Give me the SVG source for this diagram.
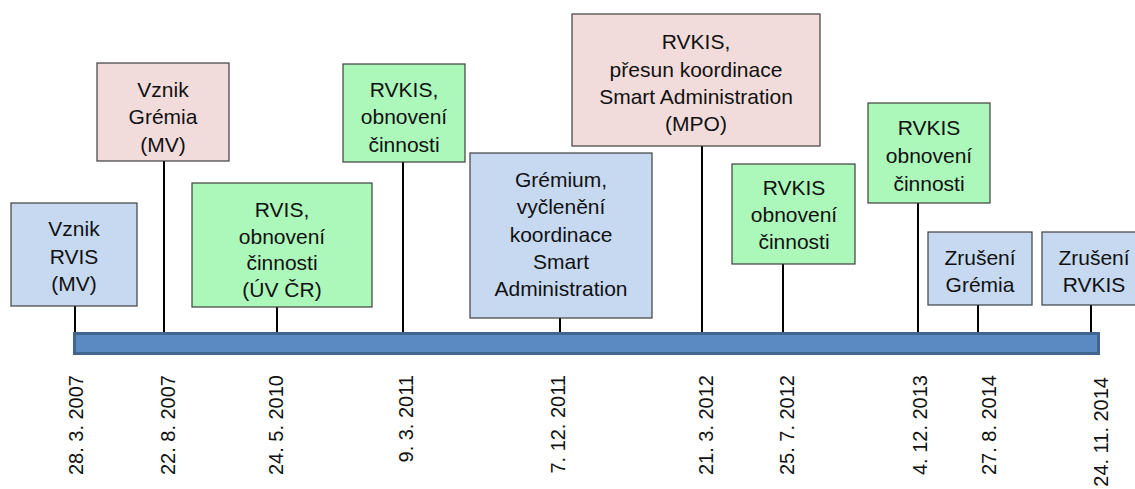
<svg xmlns="http://www.w3.org/2000/svg" width="1135" height="489" viewBox="0 0 1135 489">
<style>
.box{stroke:#3f3f3f;stroke-width:1.2}
.blue{fill:#c6d9f1}
.pink{fill:#f2dcdb}
.green{fill:#acf7ba}
.lbl{font-family:"Liberation Sans",Arial,sans-serif;font-size:21px;fill:#111;text-anchor:middle}
.date{font-family:"Liberation Sans",Arial,sans-serif;font-size:20px;fill:#111;text-anchor:end}
.stem{stroke:#000;stroke-width:2;fill:none}
</style>
<rect width="1135" height="489" fill="#fff"/>
<g id="connectors">
<line class="stem" x1="75" y1="306" x2="75" y2="333"/>
<line class="stem" x1="164" y1="161" x2="164" y2="333"/>
<line class="stem" x1="277" y1="307" x2="277" y2="333"/>
<line class="stem" x1="403" y1="162" x2="403" y2="333"/>
<line class="stem" x1="560" y1="318" x2="560" y2="333"/>
<line class="stem" x1="702" y1="146" x2="702" y2="333"/>
<line class="stem" x1="783" y1="264" x2="783" y2="333"/>
<line class="stem" x1="918" y1="203" x2="918" y2="333"/>
<line class="stem" x1="978" y1="305" x2="978" y2="333"/>
<line class="stem" x1="1091" y1="305" x2="1091" y2="333"/>
</g>
<g id="timeline">
<rect x="74.5" y="333.5" width="1024" height="20" fill="#5b8ac2" stroke="#41658e" stroke-width="3"/>
</g>
<g id="n1">
<rect class="box blue" x="11" y="203" width="126" height="103"/>
<text class="lbl" x="74" y="236">Vznik</text>
<text class="lbl" x="74" y="263.5">RVIS</text>
<text class="lbl" x="74" y="291">(MV)</text>
</g>
<g id="n2">
<rect class="box pink" x="97" y="63" width="132" height="98"/>
<text class="lbl" x="163" y="96.5">Vznik</text>
<text class="lbl" x="163" y="124">Grémia</text>
<text class="lbl" x="163" y="151.5">(MV)</text>
</g>
<g id="n3">
<rect class="box green" x="192" y="183" width="180" height="124"/>
<text class="lbl" x="282" y="217">RVIS,</text>
<text class="lbl" x="282" y="243.7">obnovení</text>
<text class="lbl" x="282" y="270.3">činnosti</text>
<text class="lbl" x="282" y="297">(ÚV ČR)</text>
</g>
<g id="n4">
<rect class="box green" x="343" y="64" width="122" height="98"/>
<text class="lbl" x="404" y="96.5">RVKIS,</text>
<text class="lbl" x="404" y="124">obnovení</text>
<text class="lbl" x="404" y="151.5">činnosti</text>
</g>
<g id="n5">
<rect class="box blue" x="470" y="153" width="182" height="165"/>
<text class="lbl" x="561" y="186.7">Grémium,</text>
<text class="lbl" x="561" y="214.1">vyčlenění</text>
<text class="lbl" x="561" y="241.5">koordinace</text>
<text class="lbl" x="561" y="268.9">Smart</text>
<text class="lbl" x="561" y="296.3">Administration</text>
</g>
<g id="n6">
<rect class="box pink" x="572" y="14" width="248" height="132"/>
<text class="lbl" x="696" y="49.3">RVKIS,</text>
<text class="lbl" x="696" y="76.7">přesun koordinace</text>
<text class="lbl" x="696" y="104.1">Smart Administration</text>
<text class="lbl" x="696" y="131">(MPO)</text>
</g>
<g id="n7">
<rect class="box green" x="732" y="164" width="123" height="100"/>
<text class="lbl" x="794" y="195">RVKIS</text>
<text class="lbl" x="794" y="222.2">obnovení</text>
<text class="lbl" x="794" y="249.3">činnosti</text>
</g>
<g id="n8">
<rect class="box green" x="868" y="103" width="122" height="100"/>
<text class="lbl" x="929" y="135">RVKIS</text>
<text class="lbl" x="929" y="162.8">obnovení</text>
<text class="lbl" x="929" y="190.7">činnosti</text>
</g>
<g id="n9">
<rect class="box blue" x="928" y="232" width="104" height="73"/>
<text class="lbl" x="980" y="265">Zrušení</text>
<text class="lbl" x="980" y="292">Grémia</text>
</g>
<g id="n10">
<rect class="box blue" x="1042" y="232" width="104" height="73"/>
<text class="lbl" x="1094" y="265">Zrušení</text>
<text class="lbl" x="1094" y="292">RVKIS</text>
</g>
<g id="dates">
<text class="date" transform="translate(83,375) rotate(-90)">28. 3. 2007</text>
<text class="date" transform="translate(175,375) rotate(-90)">22. 8. 2007</text>
<text class="date" transform="translate(283,375) rotate(-90)">24. 5. 2010</text>
<text class="date" transform="translate(413,375) rotate(-90)">9. 3. 2011</text>
<text class="date" transform="translate(565,375) rotate(-90)">7. 12. 2011</text>
<text class="date" transform="translate(713,375) rotate(-90)">21. 3. 2012</text>
<text class="date" transform="translate(794,375) rotate(-90)">25. 7. 2012</text>
<text class="date" transform="translate(927,375) rotate(-90)">4. 12. 2013</text>
<text class="date" transform="translate(996,375) rotate(-90)">27. 8. 2014</text>
<text class="date" transform="translate(1108,377) rotate(-90)">24. 11. 2014</text>
</g>
</svg>
